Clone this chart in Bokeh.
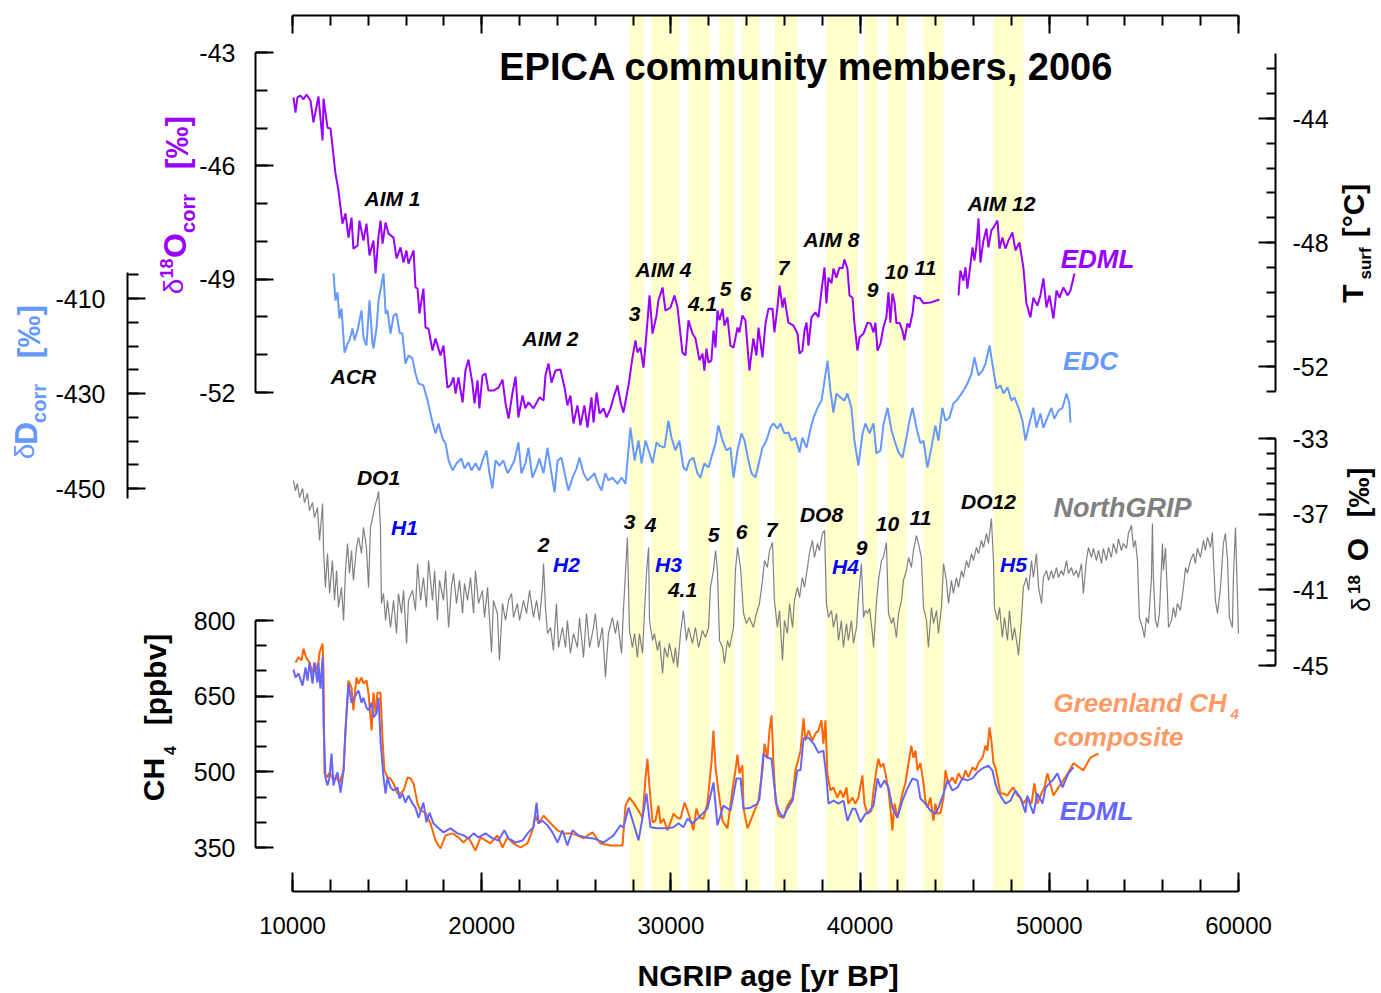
import math
from bokeh.plotting import figure
from bokeh.models import Range1d, LinearAxis, FixedTicker
from bokeh.core.properties import value
from bokeh.embed import file_html
from bokeh.resources import INLINE

NAN = float("nan")

# ---------------- data (age in yr BP, values in axis units) ----------------
# EPICA EDML delta18O corr [permil]
edml_d18o = [
(10050,-44.19),(10160,-44.59),(10260,-44.19),(10420,-44.14),(10580,-44.24),(10740,-44.11),(10950,-44.27),(11110,-44.85),(11370,-44.16),(11590,-45.33),
(11640,-44.22),(11850,-44.99),(12010,-45.01),(12270,-46.20),(12430,-46.65),(12640,-47.53),(12800,-47.26),(12960,-47.90),(13120,-47.37),(13220,-48.19),
(13440,-48.11),(13540,-47.45),(13750,-47.98),(13910,-47.53),(14070,-48.37),(14280,-47.98),(14390,-48.85),(14550,-47.84),(14650,-47.45),(14760,-48.06),
(14920,-47.50),(15070,-47.79),(15340,-47.90),(15500,-48.45),(15710,-48.16),(15870,-48.56),(16020,-48.24),(16130,-48.59),(16400,-48.24),(16500,-49.22),
(16610,-49.25),(16710,-49.91),(16920,-49.25),(17030,-50.28),(17190,-50.31),(17400,-50.89),(17560,-50.57),(17820,-51.02),(17980,-50.76),(18190,-51.87),
(18350,-51.81),(18510,-51.60),(18620,-52.03),(18770,-51.60),(18990,-52.26),(19140,-51.42),(19300,-51.13),(19510,-51.76),(19620,-52.29),(19780,-51.68),
(19880,-52.42),(20040,-51.55),(20200,-51.50),(20360,-51.95),(20620,-51.95),(20890,-51.87),(21100,-51.66),(21260,-52.29),(21420,-52.69),(21630,-52.00),
(21790,-51.58),(21940,-52.66),(22160,-52.08),(22310,-52.42),(22470,-52.26),(22740,-52.42),(23050,-52.13),(23270,-52.21),(23370,-51.55),(23530,-51.23),
(23690,-51.74),(23900,-51.42),(24160,-51.39),(24380,-51.87),(24530,-52.34),(24690,-52.08),(24850,-52.82),(25060,-52.34),(25220,-52.87),(25430,-52.34),
(25590,-52.93),(25800,-52.13),(25910,-52.79),(26070,-52.00),(26230,-52.56),(26440,-52.42),(26600,-52.66),(26810,-52.42),(26970,-52.13),(27180,-51.81),
(27340,-52.26),(27490,-52.53),(27760,-51.81),(27970,-51.07),(28130,-50.62),(28230,-50.94),(28390,-50.81),(28550,-51.34),(28710,-50.44),(28870,-49.43),
(29030,-50.44),(29240,-49.96),(29340,-49.56),(29560,-49.22),(29710,-49.83),(29980,-49.75),(30190,-49.43),(30350,-49.75),(30610,-50.94),(30770,-51.02),
(30930,-50.09),(31140,-50.44),(31300,-50.57),(31510,-51.15),(31670,-50.97),(31770,-51.42),(31880,-50.84),(31990,-51.21),(32140,-51.15),(32250,-50.36),
(32360,-50.81),(32460,-49.83),(32570,-50.09),(32730,-49.78),(32830,-50.23),(32990,-50.01),(33150,-50.76),(33310,-50.81),(33520,-50.28),(33620,-50.41),
(33780,-49.96),(33940,-50.09),(34150,-51.42),(34360,-50.57),(34520,-51.02),(34630,-50.28),(34840,-51.07),(35000,-50.17),(35160,-49.78),(35370,-49.78),
(35470,-50.41),(35630,-49.75),(35740,-49.17),(35900,-49.75),(36000,-49.49),(36210,-50.15),(36480,-50.23),(36690,-50.44),(36800,-50.97),(36950,-50.89),
(37060,-50.36),(37170,-50.15),(37270,-50.76),(37430,-50.01),(37640,-49.88),(37800,-50.01),(37960,-49.30),(38120,-48.69),(38220,-49.64),(38330,-48.96),
(38490,-49.11),(38590,-48.72),(38750,-48.96),(38910,-48.69),(39070,-48.72),(39170,-48.48),(39330,-48.72),(39440,-49.43),(39600,-49.49),(39700,-50.17),
(39860,-50.89),(39970,-50.54),(40180,-50.44),(40390,-50.15),(40550,-50.17),(40710,-50.41),(40810,-50.15),(40920,-50.89),(41080,-50.70),(41230,-50.28),
(41390,-50.01),(41500,-49.35),(41600,-50.15),(41710,-49.38),(41820,-49.62),(41920,-50.17),(42080,-50.15),(42240,-50.36),(42340,-50.62),(42500,-50.17),
(42610,-50.28),(42770,-49.91),(42870,-49.43),(43030,-49.51),(43140,-49.49),(43350,-49.64),(43720,-49.62),(44190,-49.54),(44700,NAN),
(45200,-49.43),(45300,-48.77),(45460,-49.04),(45570,-48.69),(45670,-49.25),(45780,-48.82),(45940,-48.16),(46040,-48.51),(46150,-48.11),(46260,-47.39),
(46360,-48.56),(46520,-47.98),(46680,-47.66),(46780,-48.16),(46940,-47.71),(47050,-47.63),(47260,-47.45),(47370,-48.19),(47520,-47.90),(47680,-48.19),
(47840,-47.98),(48050,-47.76),(48210,-48.24),(48420,-48.03),(48630,-48.69),(48790,-49.64),(49000,-50.01),(49160,-49.49),(49370,-49.70),(49530,-49.43),
(49690,-48.98),(49850,-49.75),(50010,-49.43),(50220,-50.04),(50380,-49.30),(50540,-49.49),(50750,-49.22),(50960,-49.43),(51120,-49.30),(51330,-48.85),
]

# EPICA EDC deltaD corr [permil]
edc_dD = [
(12170,-404.7),(12270,-410.4),(12380,-408.7),(12480,-414.2),(12590,-412.1),(12750,-421.4),(12910,-419.5),(13010,-418.8),(13170,-416.3),(13280,-418.8),
(13440,-416.7),(13540,-414.6),(13650,-412.5),(13750,-418.2),(13910,-419.9),(14070,-410.4),(14230,-419.5),(14280,-420.5),(14440,-416.3),(14550,-410.4),
(14810,-404.7),(14920,-413.2),(15020,-412.5),(15180,-417.4),(15340,-413.6),(15500,-413.2),(15660,-417.2),(15810,-417.4),(15970,-423.7),(16130,-422.0),
(16340,-422.6),(16500,-425.8),(16660,-427.9),(16920,-428.3),(17140,-431.5),(17400,-436.1),(17560,-438.4),(17720,-436.3),(17930,-439.5),(18090,-440.5),
(18250,-444.1),(18460,-446.2),(18670,-444.7),(18930,-443.7),(19090,-445.8),(19300,-444.5),(19460,-446.2),(19670,-444.7),(19880,-446.2),(20040,-444.1),
(20250,-442.0),(20410,-446.8),(20570,-450.0),(20730,-444.1),(20940,-445.2),(21150,-444.1),(21360,-446.8),(21520,-445.8),(21730,-444.1),(21940,-440.3),
(22100,-446.8),(22310,-444.7),(22470,-441.4),(22680,-447.7),(22900,-445.6),(23050,-443.7),(23270,-446.8),(23480,-441.4),(23640,-445.6),(23850,-450.8),
(24010,-444.1),(24220,-443.5),(24430,-447.7),(24590,-450.4),(24800,-447.7),(25010,-445.8),(25170,-443.5),(25380,-446.8),(25590,-448.3),(25750,-447.7),
(25960,-446.8),(26120,-448.7),(26330,-450.4),(26540,-446.8),(26700,-448.3),(26910,-447.7),(27180,-449.0),(27390,-447.7),(27600,-449.0),(27860,-437.2),
(28080,-444.1),(28290,-439.9),(28450,-444.7),(28660,-439.9),(28870,-442.6),(29030,-444.7),(29240,-440.3),(29400,-441.0),(29660,-441.4),(29870,-435.7),
(30030,-439.3),(30240,-442.0),(30450,-439.9),(30660,-445.6),(30820,-446.2),(30980,-444.1),(31190,-443.5),(31400,-446.8),(31560,-447.7),(31770,-444.7),
(31990,-445.6),(32200,-442.6),(32360,-440.5),(32510,-436.7),(32730,-439.9),(32940,-442.0),(33150,-441.4),(33310,-447.7),(33520,-442.0),(33730,-438.4),
(33890,-439.9),(34100,-444.1),(34260,-446.8),(34470,-447.7),(34680,-444.1),(34840,-441.4),(35050,-439.9),(35260,-437.2),(35420,-436.3),(35630,-437.4),
(35790,-436.3),(36000,-438.4),(36210,-438.2),(36370,-439.9),(36580,-439.3),(36800,-442.4),(36950,-439.3),(37170,-441.4),(37380,-437.4),(37540,-435.1),
(37750,-433.0),(37960,-431.5),(38120,-427.3),(38280,-423.1),(38430,-429.4),(38590,-434.0),(38750,-430.0),(38960,-430.8),(39170,-431.5),(39330,-430.0),
(39540,-433.0),(39700,-439.9),(39910,-445.2),(40130,-438.4),(40280,-436.3),(40500,-438.4),(40710,-436.3),(40860,-442.6),(41080,-442.0),(41230,-436.7),
(41450,-433.0),(41660,-437.8),(41820,-439.9),(42030,-442.4),(42240,-443.5),(42450,-439.3),(42610,-435.7),(42770,-433.0),(42980,-437.2),(43190,-440.5),
(43350,-439.9),(43560,-445.6),(43770,-441.4),(43980,-436.7),(44140,-439.9),(44350,-433.0),(44510,-435.7),(44720,-435.1),(44930,-432.1),(45090,-431.5),
(45300,-430.4),(45520,-429.0),(45670,-427.9),(45890,-425.8),(46040,-422.4),(46260,-426.2),(46470,-425.2),(46630,-423.7),(46840,-419.9),(47050,-425.2),
(47210,-429.0),(47420,-428.3),(47580,-430.0),(47790,-428.7),(48000,-431.5),(48160,-430.8),(48370,-433.0),(48580,-435.7),(48740,-439.9),(48950,-436.3),
(49160,-433.0),(49320,-437.2),(49530,-434.2),(49690,-437.2),(49900,-435.1),(50110,-433.0),(50270,-435.3),(50480,-433.6),(50700,-433.0),(50910,-430.0),
(51060,-432.1),(51120,-436.1),
]

# NorthGRIP delta18O [permil]
ngrip_d18o = [
(10050,-35.22),(10160,-35.75),(10260,-35.38),(10370,-36.12),(10530,-35.64),(10630,-36.38),(10790,-35.91),(10900,-36.81),(11060,-36.38),(11160,-37.18),
(11320,-36.65),(11430,-38.39),(11590,-36.44),(11640,-38.92),(11740,-40.87),(11850,-39.08),(11960,-41.19),(12110,-39.45),(12220,-41.56),(12330,-39.98),
(12430,-41.93),(12590,-40.87),(12700,-42.62),(12800,-39.98),(12910,-38.55),(13010,-40.13),(13120,-38.92),(13220,-40.50),(13380,-38.76),(13490,-38.23),
(13650,-39.08),(13750,-37.70),(13910,-38.76),(14020,-40.87),(14120,-37.70),(14280,-36.96),(14390,-36.44),(14490,-36.12),(14550,-35.80),(14650,-37.70),
(14700,-41.72),(14810,-41.19),(14920,-42.62),(15020,-41.56),(15180,-42.99),(15340,-41.56),(15500,-43.31),(15600,-41.19),(15760,-42.25),(15870,-41.03),
(16030,-43.83),(16130,-41.56),(16340,-41.03),(16500,-42.09),(16610,-39.61),(16770,-41.56),(16920,-40.35),(17080,-41.93),(17190,-39.45),(17400,-41.56),
(17510,-39.98),(17660,-42.62),(17770,-40.50),(17980,-41.56),(18090,-39.98),(18250,-42.99),(18400,-40.87),(18510,-40.13),(18670,-41.72),(18830,-40.50),
(18990,-42.25),(19090,-40.66),(19250,-41.56),(19410,-40.35),(19570,-42.25),(19670,-39.98),(19830,-41.72),(20040,-41.03),(20150,-42.46),(20310,-40.87),
(20520,-44.31),(20620,-41.56),(20830,-42.25),(20940,-44.73),(21100,-41.72),(21260,-42.62),(21420,-41.56),(21580,-41.19),(21680,-42.46),(21890,-41.72),
(22000,-42.62),(22210,-41.56),(22370,-42.25),(22530,-41.03),(22740,-42.46),(22900,-41.56),(23050,-42.62),(23210,-40.87),(23270,-39.61),(23370,-41.93),
(23480,-43.31),(23640,-42.99),(23790,-44.20),(23950,-41.72),(24060,-44.05),(24270,-42.99),(24430,-44.05),(24530,-42.62),(24690,-44.36),(24850,-43.31),
(25060,-44.05),(25170,-42.46),(25380,-44.57),(25540,-42.25),(25700,-44.05),(25910,-42.99),(26010,-42.25),(26170,-44.05),(26380,-42.99),(26540,-45.63),
(26700,-43.31),(26910,-42.46),(27070,-43.31),(27180,-42.62),(27390,-44.36),(27490,-42.09),(27700,-38.23),(27810,-43.15),(27970,-44.05),(28080,-43.31),
(28230,-44.57),(28340,-43.31),(28500,-44.36),(28600,-42.25),(28710,-40.13),(28820,-38.76),(28870,-42.62),(29030,-43.68),(29130,-43.31),(29290,-44.20),
(29400,-43.68),(29560,-45.42),(29660,-44.05),(29820,-44.57),(29920,-43.83),(30140,-44.89),(30240,-44.05),(30350,-45.10),(30510,-43.31),(30660,-42.09),
(30820,-43.68),(30930,-42.99),(31140,-43.83),(31300,-42.99),(31460,-44.05),(31670,-43.15),(31830,-43.52),(31990,-42.99),(32090,-40.87),(32250,-39.98),
(32360,-38.92),(32460,-39.98),(32570,-43.68),(32730,-44.05),(32830,-44.89),(32990,-43.68),(33100,-44.05),(33310,-42.99),(33410,-39.98),(33520,-38.76),
(33680,-39.82),(33840,-42.25),(33990,-42.78),(34150,-42.46),(34360,-42.99),(34520,-42.25),(34680,-41.72),(34840,-40.50),(34950,-39.45),(35100,-39.82),
(35210,-38.92),(35370,-38.50),(35470,-41.56),(35630,-42.99),(35740,-42.09),(35900,-44.73),(36000,-42.62),(36160,-43.31),(36270,-41.72),(36430,-42.99),
(36530,-41.56),(36690,-40.87),(36800,-41.40),(36950,-40.35),(37060,-40.87),(37220,-39.82),(37320,-39.08),(37480,-38.39),(37590,-39.29),(37750,-38.55),
(37850,-38.92),(38010,-38.02),(38120,-37.86),(38220,-41.72),(38330,-42.46),(38490,-42.09),(38590,-42.99),(38750,-42.25),(38860,-43.68),(39010,-42.62),
(39120,-44.05),(39280,-42.78),(39380,-43.68),(39540,-42.62),(39650,-43.83),(39810,-42.99),(39910,-41.40),(40070,-39.61),(40180,-42.46),(40280,-42.09),
(40390,-42.25),(40500,-41.98),(40650,-43.31),(40710,-44.05),(40860,-41.72),(40970,-40.50),(41130,-39.45),(41230,-39.29),(41390,-38.50),(41500,-42.25),
(41660,-42.78),(41760,-42.46),(41920,-43.52),(42030,-42.25),(42190,-41.56),(42290,-40.50),(42450,-39.98),(42560,-39.29),(42710,-39.82),(42820,-38.92),
(42980,-38.13),(43080,-38.55),(43240,-39.29),(43350,-41.93),(43510,-42.62),(43610,-44.05),(43770,-41.93),(43880,-42.78),(44040,-42.09),(44140,-43.31),
(44300,-41.93),(44410,-39.61),(44560,-40.50),(44670,-41.72),(44830,-40.50),(44930,-41.19),(45090,-40.35),(45200,-40.87),(45360,-39.98),(45460,-40.35),
(45620,-39.45),(45730,-39.82),(45890,-39.08),(45990,-39.45),(46150,-38.76),(46260,-39.08),(46410,-38.39),(46520,-38.76),(46680,-38.02),(46780,-38.55),
(46940,-37.23),(47050,-39.45),(47100,-41.93),(47260,-42.62),(47370,-41.93),(47520,-43.52),(47630,-42.46),(47790,-43.68),(47890,-42.09),(48050,-43.68),
(48160,-42.99),(48320,-44.05),(48370,-44.47),(48530,-42.46),(48630,-40.87),(48790,-40.35),(48900,-41.03),(49060,-39.45),(49160,-40.35),(49320,-39.08),
(49430,-40.87),(49590,-41.72),(49690,-40.35),(49850,-39.98),(49960,-40.50),(50110,-39.98),(50220,-40.40),(50380,-39.82),(50480,-40.35),(50640,-39.98),
(50750,-40.24),(50910,-39.45),(51010,-40.13),(51170,-39.82),(51280,-40.24),(51430,-39.98),(51540,-40.35),(51700,-39.61),(51800,-41.19),(51960,-39.45),
(52070,-38.76),(52230,-39.29),(52330,-38.81),(52490,-39.45),(52600,-38.92),(52760,-39.61),(52860,-38.81),(53020,-39.45),(53130,-38.76),(53280,-39.29),
(53390,-38.55),(53550,-39.08),(53650,-38.29),(53810,-38.92),(53920,-38.55),(54080,-38.81),(54180,-38.02),(54340,-37.60),(54450,-38.76),(54550,-38.39),
(54660,-39.45),(54760,-42.46),(54920,-42.99),(55030,-43.52),(55130,-42.46),(55240,-42.78),(55400,-40.35),(55450,-37.49),(55500,-40.35),(55610,-42.62),
(55720,-42.99),(55820,-42.25),(55980,-38.55),(56030,-39.98),(56140,-38.76),(56240,-41.19),(56300,-42.99),(56460,-42.62),(56560,-41.93),(56670,-42.46),
(56770,-41.72),(56930,-42.09),(57090,-40.87),(57200,-39.82),(57300,-40.13),(57460,-39.45),(57620,-39.08),(57720,-39.61),(57830,-38.81),(57990,-39.29),
(58150,-38.39),(58250,-38.92),(58360,-38.23),(58520,-38.76),(58620,-37.97),(58680,-39.45),(58780,-41.56),(58890,-42.25),(59050,-40.87),(59200,-38.55),
(59310,-38.02),(59420,-39.45),(59520,-42.46),(59680,-42.99),(59730,-40.35),(59840,-37.70),(59940,-41.19),(60000,-43.31),
]

# Greenland CH4 composite [ppbv]
gis_ch4 = [
(10160,717),(10320,727),(10480,721),(10580,744),(10740,725),(10900,717),(11060,695),(11160,717),(11320,701),(11430,737),
(11590,754),(11640,701),(11690,497),(11850,489),(11960,499),(12170,483),(12330,489),(12480,477),(12700,503),(12800,582),
(12960,681),(13120,667),(13220,622),(13380,687),(13490,675),(13650,687),(13750,675),(13910,681),(14020,655),(14180,582),
(14280,657),(14390,616),(14490,657),(14650,657),(14760,562),(14860,503),(15020,489),(15180,487),(15340,477),(15550,457),
(15710,457),(15870,463),(16080,489),(16240,487),(16400,477),(16610,437),(16770,423),(17030,419),(17290,398),(17560,364),
(17820,348),(18090,374),(18460,378),(18770,370),(19040,360),(19300,370),(19670,344),(19940,370),(20200,364),(20460,358),
(20830,374),(21100,350),(21360,370),(21680,358),(22050,350),(22420,358),(22680,384),(22840,413),(23000,398),(23270,413),
(23640,398),(24010,384),(24320,378),(24690,378),(25060,374),(25380,368),(25860,380),(26280,358),(26810,354),(27440,354),
(27600,433),(27810,449),(28020,439),(28290,423),(28500,409),(28660,489),(28760,526),(28870,469),(29030,400),(29180,403),
(29340,433),(29450,398),(29610,407),(29820,384),(29980,400),(30140,417),(30350,409),(30510,407),(30720,439),(30880,423),
(31090,398),(31190,384),(31350,427),(31510,409),(31720,407),(31930,437),(32140,517),(32250,582),(32360,509),(32510,463),
(32730,403),(32990,388),(33250,463),(33410,503),(33520,534),(33620,497),(33780,513),(33840,427),(34050,388),(34360,417),
(34630,443),(34840,503),(34950,556),(35100,528),(35210,582),(35320,612),(35420,517),(35530,443),(35690,413),(35950,409),
(36160,433),(36430,449),(36580,503),(36690,518),(36850,542),(37010,606),(37110,562),(37270,582),(37480,562),(37640,576),
(37800,582),(37960,602),(38060,556),(38170,602),(38270,497),(38430,463),(38590,469),(38800,449),(38960,463),(39120,449),
(39280,469),(39380,437),(39600,449),(39750,437),(39910,449),(40120,493),(40230,437),(40390,417),(40600,423),(40710,463),
(40860,503),(40970,526),(41080,509),(41230,517),(41340,497),(41500,463),(41600,429),(41710,384),(41820,437),(41970,409),
(42080,429),(42240,457),(42400,479),(42560,517),(42710,552),(42820,528),(42930,542),(43030,503),(43190,517),(43350,477),
(43450,443),(43560,429),(43720,449),(43880,403),(43980,437),(44090,417),(44250,419),(44410,449),(44510,503),(44670,477),
(44880,489),(45040,477),(45200,497),(45410,483),(45570,503),(45730,489),(45940,509),(46100,503),(46260,518),(46470,528),
(46630,552),(46730,542),(46840,588),(46940,562),(47050,517),(47150,509),(47260,489),(47420,457),(47580,457),(47790,453),
(47950,463),(48100,469),(48320,453),(48470,449),(48630,437),(48840,449),(49060,437),(49210,477),(49370,437),(49580,457),
(49740,469),(49900,497),(50220,453),(50480,469),(50850,489),(51280,517),(51800,503),(52170,528),(52600,536),
]

# EPICA EDML CH4 [ppbv]
edml_ch4 = [
(10050,703),(10160,687),(10320,695),(10530,671),(10690,707),(10790,681),(10900,717),(11060,675),(11160,715),(11320,677),
(11370,717),(11480,665),(11590,727),(11640,596),(11740,489),(11850,473),(11960,489),(12060,536),(12170,473),(12270,489),
(12380,499),(12540,459),(12700,503),(12800,582),(12960,675),(13120,637),(13220,645),(13380,655),(13490,661),(13650,637),
(13750,647),(13910,627),(14020,622),(14180,637),(14280,608),(14440,616),(14550,647),(14650,562),(14810,489),(14920,457),
(15020,489),(15180,469),(15340,463),(15550,469),(15660,447),(15810,457),(15970,439),(16130,453),(16340,437),(16500,429),
(16660,409),(16920,439),(17080,400),(17240,419),(17450,398),(17660,390),(17980,380),(18350,388),(18720,378),(19040,374),
(19300,368),(19570,378),(19830,370),(20200,378),(20570,368),(20890,364),(21200,384),(21420,368),(21790,360),(22160,364),
(22470,380),(22740,390),(22900,439),(23000,398),(23210,403),(23480,394),(23740,380),(24010,360),(24270,384),(24530,354),
(24800,384),(25120,374),(25490,370),(25910,368),(26440,360),(26970,374),(27330,394),(27490,390),(27760,429),(28020,398),
(28290,364),(28500,409),(28710,457),(28920,390),(29290,388),(29820,388),(30140,390),(30400,398),(30660,390),(30880,407),
(31140,398),(31400,407),(31670,417),(31930,427),(32250,479),(32460,394),(32780,433),(33150,423),(33470,487),(33680,487),
(33840,427),(34210,429),(34580,437),(34680,447),(34890,536),(35100,528),(35320,526),(35420,489),(35580,437),(35740,419),
(35950,409),(36110,423),(36430,443),(36690,503),(36850,503),(37010,566),(37270,568),(37540,556),(37800,538),(38060,542),
(38220,489),(38330,437),(38590,443),(38860,437),(39120,443),(39330,403),(39600,427),(39750,427),(40020,400),(40280,417),
(40440,419),(40710,433),(40920,487),(41080,469),(41290,483),(41500,469),(41710,429),(41970,409),(42240,443),(42500,467),
(42770,487),(43030,483),(43190,447),(43450,437),(43720,423),(43980,417),(44140,429),(44410,457),(44620,483),(44880,463),
(45150,469),(45410,487),(45670,483),(45940,487),(46200,499),(46470,507),(46780,512),(46990,503),(47150,477),(47310,459),
(47680,437),(47950,443),(48210,463),(48470,449),(48740,419),(48840,453),(49000,433),(49160,417),(49370,457),(49640,437),
(49800,469),(50170,483),(50430,497),(50700,469),(51010,497),(51280,509),
]

# Greenland interstadials (yellow bands) [yr BP]
band_start = [27810, 28980, 30930, 32570, 33780, 35480, 38220, 40230, 41450, 43350, 47050]
band_end   = [28550, 30460, 32040, 33360, 34680, 36690, 39860, 40920, 42450, 44410, 48640]

# axis ticks
x_ticks = [10000, 20000, 30000, 40000, 50000, 60000]
x_minor = list(range(10000, 60001, 2000))
edml_ticks = [-52, -49, -46, -43]
edml_minor = [-52, -51, -50, -49, -48, -47, -46, -45, -44, -43]
edc_ticks = [-450, -430, -410]
edc_minor = [-450, -445, -440, -435, -430, -425, -420, -415, -410, -405]
ch4_ticks = [350, 500, 650, 800]
ch4_minor = [350, 400, 450, 500, 550, 600, 650, 700, 750, 800]
tsurf_ticks = [-52, -48, -44]
tsurf_minor = [-52.8, -52.0, -51.2, -50.4, -49.6, -48.8, -48.0, -47.2, -46.4, -45.6, -44.8, -44.0, -43.2, -42.4]
ngrip_ticks = [-45, -41, -37, -33]
ngrip_minor = [-45.0, -44.2, -43.4, -42.6, -41.8, -41.0, -40.2, -39.4, -38.6, -37.8, -37.0, -36.2, -35.4, -34.6, -33.8, -33.0]

# ---------------- layout geometry (screen pixels of the 1381x993 page) ----------------
W, H = 1381, 993
FONT = "Liberation Sans"
PURPLE = "#9900ff"
LBLUE = "#6699ff"
GRAY = "#808080"
ORANGE = "#ff6600"
SALMON = "#ff9966"
VIOLET = "#6666ff"
HBLUE = "#0000ff"


def vrange(v1, r1, v2, r2):
    s = (v2 - v1) / (r2 - r1)
    return Range1d(start=v1 + (H - r1) * s, end=v1 - r1 * s)


XPX0, XPX1 = 292, 1238
xs = (60000 - 10000) / (XPX1 - XPX0)
x_range = Range1d(start=10000 - XPX0 * xs, end=10000 + (W - XPX0) * xs)

p = figure(width=W, height=H, x_range=x_range, y_range=Range1d(H, 0),
           x_axis_location=None, y_axis_location=None,
           toolbar_location=None, output_backend="svg", min_border=0,
           outline_line_color=None, background_fill_color="white",
           border_fill_color="white")
p.grid.visible = False
p.extra_x_ranges = {"px": Range1d(0, W)}
p.extra_y_ranges = {
    "edml": vrange(-43, 52, -52, 392),
    "edc": vrange(-410, 298, -450, 488),
    "tsurf": vrange(-44, 118, -52, 366),
    "ngrip": vrange(-33, 438, -45, 665),
    "ch4": vrange(800, 620, 350, 847),
}

# bands
p.quad(left=band_start, right=band_end, bottom=891, top=15,
       fill_color="#ffffcc", line_color=None)


def unzip(pairs):
    return [a for a, _ in pairs], [b for _, b in pairs]


ax, ay = unzip(edml_d18o)
p.line(ax, ay, y_range_name="edml", line_color=PURPLE, line_width=2)
ax, ay = unzip(edc_dD)
p.line(ax, ay, y_range_name="edc", line_color=LBLUE, line_width=2)
ax, ay = unzip(ngrip_d18o)
p.line(ax, ay, y_range_name="ngrip", line_color=GRAY, line_width=1.2)
ax, ay = unzip(gis_ch4)
p.line(ax, ay, y_range_name="ch4", line_color=ORANGE, line_width=2)
ax, ay = unzip(edml_ch4)
p.line(ax, ay, y_range_name="ch4", line_color=VIOLET, line_width=2)


def fmt(t):
    return ("%g" % t)


def style_axis(a, size, tick_in, minor_in, standoff, ticks):
    a.axis_line_width = 2
    a.major_tick_line_width = 2
    a.minor_tick_line_width = 2
    a.major_tick_in = tick_in
    a.major_tick_out = 0
    a.minor_tick_in = minor_in
    a.minor_tick_out = 0
    a.major_label_text_font = FONT
    a.major_label_text_font_size = f"{size}px"
    a.major_label_standoff = standoff
    a.major_label_text_color = "black"
    a.major_label_overrides = {t: fmt(t) for t in ticks}


def vaxis(side, rname, loc, bounds, ticks, minor, tin, min_in, standoff):
    a = LinearAxis(y_range_name=rname, x_range_name="px", fixed_location=loc,
                   bounds=bounds, ticker=FixedTicker(ticks=ticks, minor_ticks=minor))
    style_axis(a, 25, tin, min_in, standoff, ticks)
    p.add_layout(a, side)
    return a


vaxis("left", "edml", 255, (-52, -43), edml_ticks, edml_minor, 18, 12, 20)
vaxis("left", "edc", 127, (-452, -404.5), edc_ticks, edc_minor, 18, 11, 22)
vaxis("left", "ch4", 255, (350, 800), ch4_ticks, ch4_minor, 18, 11, 20)
vaxis("right", "tsurf", 1275, (-52.8, -41.9), tsurf_ticks, tsurf_minor, 17, 9, 17)
vaxis("right", "ngrip", 1275, (-45, -33), ngrip_ticks, ngrip_minor, 17, 9, 17)

bx = LinearAxis(fixed_location=891, bounds=(10000, 60000),
                ticker=FixedTicker(ticks=x_ticks, minor_ticks=x_minor))
style_axis(bx, 24, 19, 12, 25, x_ticks)
p.add_layout(bx, "below")

tx = LinearAxis(fixed_location=15, bounds=(10000, 60000),
                ticker=FixedTicker(ticks=x_ticks, minor_ticks=x_minor))
style_axis(tx, 24, 18, 10, 10, x_ticks)
tx.major_label_text_color = None
p.add_layout(tx, "above")


def txt(s, x, y, size, color="black", style="bold", angle=0.0, align="center"):
    p.text(x=[x], y=[y], text=[s], x_range_name="px",
           text_font=value(FONT), text_font_size=f"{size}px",
           text_font_style=style, text_color=color, angle=angle,
           text_align=align, text_baseline="middle")


R = math.pi / 2
# axis titles built from pieces (super/subscripts)
for s, x, y, size, st, col in [
    ("δ", 173, 286, 28, "normal", PURPLE), ("18", 166, 268, 18, "bold", PURPLE),
    ("O", 174, 245, 32, "bold", PURPLE), ("corr", 187, 213, 20, "bold", PURPLE),
    ("[‰]", 176, 142, 32, "bold", PURPLE),
    ("δ", 24, 451, 28, "normal", LBLUE), ("D", 25, 433, 32, "bold", LBLUE),
    ("corr", 38, 403, 20, "bold", LBLUE), ("[‰]", 28, 331, 32, "bold", LBLUE),
    ("CH", 153, 779, 30, "bold", "black"), ("4", 169, 750, 16, "bold", "black"),
    ("[ppbv]", 155, 679, 30, "bold", "black"),
    ("T", 1352, 293, 30, "bold", "black"), ("surf", 1365, 263, 17, "bold", "black"),
    ("[°C]", 1353, 210, 30, "bold", "black"),
    ("δ", 1360, 604, 26, "normal", "black"), ("18", 1353, 584, 17, "bold", "black"),
    ("O", 1357, 549, 30, "bold", "black"), ("[‰]", 1358, 492, 30, "bold", "black"),
]:
    txt(s, x, y, size, col, st, angle=R)

txt("NGRIP age  [yr BP]", 772, 975, 30)
txt("EPICA community members, 2006", 806, 66, 38)

# event labels
BI = "bold italic"
for s, x, y, col in [
    ("AIM 1", 392, 198, "black"), ("ACR", 353, 376, "black"), ("AIM 2", 550, 338, "black"),
    ("3", 634, 313, "black"), ("AIM 4", 663, 269, "black"), ("4.1", 702, 303, "black"),
    ("5", 725, 288, "black"), ("6", 745, 293, "black"), ("7", 783, 267, "black"),
    ("AIM 8", 831, 239, "black"), ("9", 872, 289, "black"), ("10", 896, 271, "black"),
    ("11", 925, 267, "black"), ("AIM 12", 1001, 203, "black"),
    ("DO1", 378, 477, "black"), ("H1", 404, 527, HBLUE), ("2", 543, 544, "black"),
    ("H2", 566, 564, HBLUE), ("3", 629, 521, "black"), ("4", 650, 524, "black"),
    ("H3", 668, 564, HBLUE), ("4.1", 682, 589, "black"), ("5", 713, 534, "black"),
    ("6", 741, 531, "black"), ("7", 771, 529, "black"), ("DO8", 821, 514, "black"),
    ("9", 861, 547, "black"), ("H4", 845, 566, HBLUE), ("10", 887, 523, "black"),
    ("11", 920, 517, "black"), ("DO12", 988, 501, "black"), ("H5", 1013, 564, HBLUE),
]:
    txt(s, x, y, 21, col, BI)

# series names
txt("EDML", 1097, 258, 26, PURPLE, BI)
txt("EDC", 1090, 360, 26, LBLUE, BI)
txt("NorthGRIP", 1122, 507, 27, GRAY, BI)
txt("Greenland CH", 1053, 702, 26, SALMON, BI, align="left")
txt("4", 1230, 713, 15, SALMON, BI, align="left")
txt("composite", 1053, 736, 26, SALMON, BI, align="left")
txt("EDML", 1096, 810, 26, VIOLET, BI)

open("out.html", "w").write(file_html(p, INLINE))
